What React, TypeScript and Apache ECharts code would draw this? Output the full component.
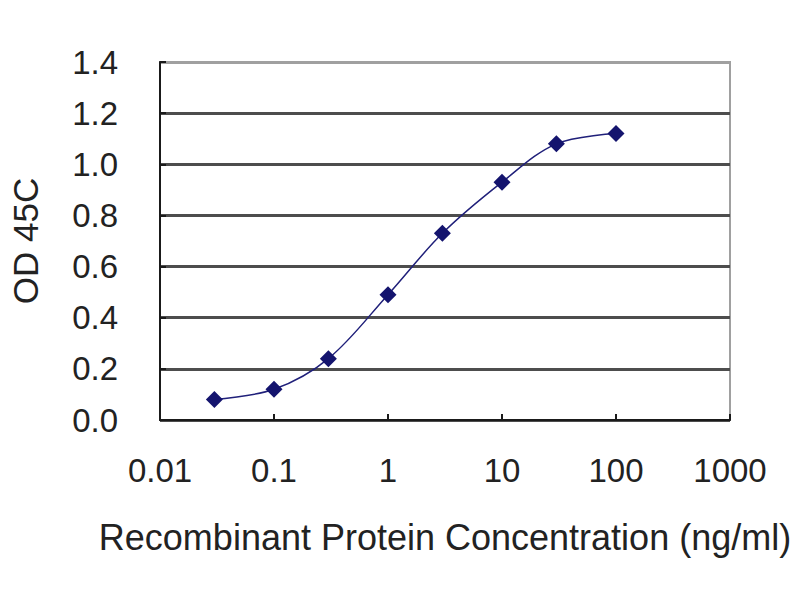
import React, { useEffect, useRef } from "react";
import * as echarts from "echarts";

const concentrations = [0.03, 0.1, 0.3, 1, 3, 10, 30, 100];
const odValues = [0.08, 0.12, 0.24, 0.49, 0.73, 0.93, 1.08, 1.12];
const xTickLabels = ["0.01", "0.1", "1", "10", "100", "1000"];
const yTickLabels = ["0.0", "0.2", "0.4", "0.6", "0.8", "1.0", "1.2", "1.4"];

const FONT = "Liberation Sans, Arial, sans-serif";

export default function App() {
  const ref = useRef<HTMLDivElement>(null);
  useEffect(() => {
    if (!ref.current) return;
    const chart = echarts.init(ref.current, undefined, { renderer: "svg" });
    chart.setOption({
      animation: false,
      backgroundColor: "#ffffff",
      grid: {
        left: 160,
        right: 70,
        top: 62,
        bottom: 180,
        show: true,
        borderColor: "#a0a0a0",
        borderWidth: 2,
        backgroundColor: "#ffffff",
      },
      xAxis: {
        type: "log",
        logBase: 10,
        min: 0.01,
        max: 1000,
        name: "Recombinant Protein Concentration (ng/ml)",
        nameLocation: "middle",
        nameGap: 99,
        nameTextStyle: { fontFamily: FONT, fontSize: 36, color: "#222222" },
        axisLine: { show: true, lineStyle: { color: "#1a1a1a", width: 2 } },
        axisTick: { show: true, inside: true, length: 6, lineStyle: { color: "#1a1a1a", width: 2 } },
        minorTick: { show: false },
        splitLine: { show: false },
        axisLabel: {
          margin: 34,
          fontFamily: FONT,
          fontSize: 33,
          color: "#222222",
          formatter: (v: number) => {
            const i = Math.round(Math.log10(v)) + 2;
            return xTickLabels[i] ?? "";
          },
        },
      },
      yAxis: {
        type: "value",
        min: 0,
        max: 1.4,
        interval: 0.2,
        name: "OD 45C",
        nameLocation: "middle",
        nameRotate: 90,
        nameGap: 117,
        nameTextStyle: { fontFamily: FONT, fontSize: 35, color: "#222222" },
        axisLine: { show: true, lineStyle: { color: "#1a1a1a", width: 2 } },
        axisTick: { show: true, inside: true, length: 6, lineStyle: { color: "#1a1a1a", width: 2 } },
        splitLine: {
          show: true,
          lineStyle: {
            color: ["#4d4d4d", "#4d4d4d", "#4d4d4d", "#4d4d4d", "#4d4d4d", "#4d4d4d", "#4d4d4d", "#a0a0a0"],
            width: 3,
          },
        },
        axisLabel: {
          margin: 42,
          fontFamily: FONT,
          fontSize: 33,
          color: "#222222",
          formatter: (v: number) => yTickLabels[Math.round(v / 0.2)] ?? "",
        },
      },
      series: [
        {
          type: "line",
          data: concentrations.map((c, i) => [c, odValues[i]]),
          smooth: 0.35,
          symbol: "diamond",
          symbolSize: 17,
          lineStyle: { color: "#20207a", width: 1.5 },
          itemStyle: { color: "#14146e" },
        },
      ],
    });
    return () => chart.dispose();
  }, []);
  return (
    <div
      ref={ref}
      style={{ position: "fixed", left: 0, top: 0, width: 800, height: 600, background: "#fff" }}
    />
  );
}
